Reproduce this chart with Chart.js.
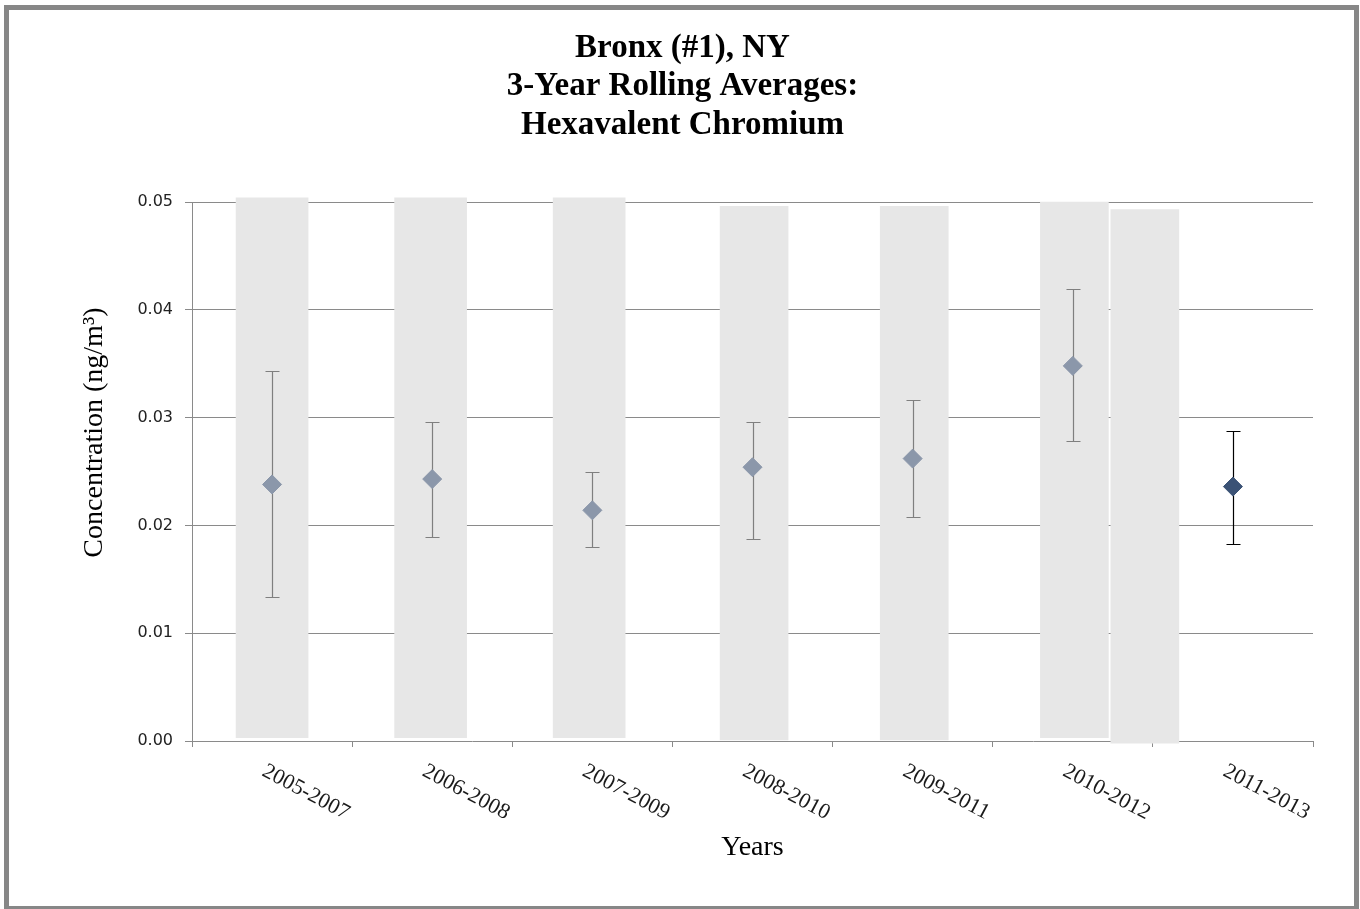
<!DOCTYPE html>
<html>
<head>
<meta charset="utf-8">
<title>Bronx (#1), NY - Hexavalent Chromium</title>
<script src="https://cdn.jsdelivr.net/npm/chart.js@4"></script>
<style>
  html, body { margin: 0; padding: 0; background: #fff; }
  #wrap { position: relative; width: 1360px; height: 909px; overflow: hidden; }
  #frame {
    position: absolute; left: 4px; top: 5px; width: 1355px; height: 906px;
    box-sizing: border-box; border: 5px solid #878787; pointer-events: none;
  }
</style>
</head>
<body>
<div id="wrap">
  <canvas id="chart"></canvas>
  <div id="frame"></div>
</div>
<script>
// 3-year rolling averages with their confidence intervals (ng/m3)
const periods = ['2005-2007', '2006-2008', '2007-2009', '2008-2010', '2009-2011', '2010-2012', '2011-2013'];
const means   = [0.0238, 0.0243, 0.0214, 0.0254, 0.0262, 0.0348, 0.0236];
const errLow  = [0.0134, 0.0189, 0.0180, 0.0187, 0.0208, 0.0278, 0.0183];
const errHigh = [0.0343, 0.0296, 0.0250, 0.0296, 0.0316, 0.0419, 0.0288];
const yTickValues = [0, 0.01, 0.02, 0.03, 0.04, 0.05];

// shaded background bands, x in category units
const bandX    = [0.00, 0.99, 1.98, 3.01, 4.01, 5.01, 5.45];
const bandLow  = [0.0003, 0.0003, 0.0003, 0.0001, 0.0001, 0.0003, -0.0002];
const bandHigh = [0.0504, 0.0504, 0.0504, 0.0496, 0.0496, 0.0500, 0.0493];

const titleLines = ['Bronx (#1), NY', '3-Year Rolling Averages:', 'Hexavalent Chromium'];
const yTitle = 'Concentration (ng/m³)';

const SERIF = "'Liberation Serif', 'Times New Roman', serif";
const GRID = '#8a8a8a';
const last = means.length - 1;

const bands = bandX.map((x, i) => ({ x, y: [bandLow[i], bandHigh[i]] }));

// whiskers go under the diamonds
const errorBars = {
  id: 'errorBars',
  beforeDatasetDraw(chart, args) {
    if (args.index !== 0) return;
    const { ctx, scales: { x, y } } = chart;
    ctx.save();
    ctx.lineWidth = 1.2;
    means.forEach((m, i) => {
      const px = Math.round(x.getPixelForValue(i)) + 0.5;
      const top = Math.round(y.getPixelForValue(errHigh[i])) + 0.5;
      const bot = Math.round(y.getPixelForValue(errLow[i])) + 0.5;
      ctx.strokeStyle = i === last ? '#000' : '#7f7f7f';
      ctx.beginPath();
      ctx.moveTo(px, top); ctx.lineTo(px, bot);
      ctx.moveTo(px - 7, top); ctx.lineTo(px + 7, top);
      ctx.moveTo(px - 7, bot); ctx.lineTo(px + 7, bot);
      ctx.stroke();
    });
    ctx.restore();
  }
};

// slanted period labels and the vertical axis title (sits above centre)
const axisText = {
  id: 'axisText',
  afterDraw(chart) {
    const { ctx, chartArea, scales: { x, y } } = chart;
    ctx.save();
    ctx.fillStyle = '#1a1a1a';
    ctx.font = '22px ' + SERIF;
    ctx.textAlign = 'left';
    ctx.textBaseline = 'alphabetic';
    periods.forEach((p, i) => {
      ctx.save();
      ctx.translate(x.getPixelForValue(i) - 11, x.top + 34);
      ctx.rotate(28 * Math.PI / 180);
      ctx.fillText(p, 0, 0);
      ctx.restore();
    });

    ctx.fillStyle = '#000';
    ctx.font = '28px ' + SERIF;
    ctx.textAlign = 'center';
    ctx.textBaseline = 'middle';
    ctx.translate(y.left + 85, (chartArea.top + chartArea.bottom) / 2 - 39);
    ctx.rotate(-Math.PI / 2);
    ctx.fillText(yTitle, 0, 0);
    ctx.restore();
  }
};

const bandStyle = {
  type: 'bar',
  xAxisID: 'xb',
  yAxisID: 'y',
  backgroundColor: '#e7e7e7',
  grouped: false,
  clip: false
};

new Chart(document.getElementById('chart'), {
  type: 'bar',
  data: {
    labels: periods,
    datasets: [
      {
        type: 'line',
        label: 'Average',
        data: means,
        xAxisID: 'x',
        yAxisID: 'y',
        showLine: false,
        order: 0,
        pointStyle: 'rectRot',
        pointRadius: 9.5,
        pointHoverRadius: 9.5,
        pointBorderWidth: 1,
        pointBackgroundColor: c => c.dataIndex === last ? '#3b5275' : '#8b97aa',
        pointBorderColor: c => c.dataIndex === last ? '#3b5275' : '#8b97aa'
      },
      Object.assign({ label: 'bands', data: bands.slice(0, 3), barThickness: 72, order: 1 }, bandStyle),
      Object.assign({ label: 'bands2', data: bands.slice(3), barThickness: 68, order: 2 }, bandStyle)
    ]
  },
  options: {
    responsive: true,
    maintainAspectRatio: false,
    animation: false,
    layout: { padding: { left: 10, right: 5, top: 10, bottom: 10 } },
    plugins: {
      legend: { display: false },
      tooltip: { enabled: false },
      title: {
        display: true,
        text: titleLines,
        color: '#000',
        font: { family: SERIF, size: 33, weight: 'bold', lineHeight: 1.167 },
        padding: { top: 19, bottom: 57.5 }
      }
    },
    scales: {
      x: {
        type: 'category',
        offset: true,
        grid: { offset: true, drawOnChartArea: false, tickLength: 6, color: GRID },
        border: { color: GRID },
        ticks: { display: false },
        title: {
          display: true,
          text: 'Years',
          color: '#000',
          font: { family: SERIF, size: 28 },
          padding: { top: 0, bottom: 35 }
        },
        afterFit: s => { s.height = 158; }
      },
      xb: { type: 'linear', display: false, offset: false, min: -0.5, max: 6.5 },
      y: {
        min: 0,
        max: 0.05,
        z: 1,
        afterBuildTicks: s => { s.ticks = yTickValues.map(v => ({ value: v })); },
        ticks: {
          callback: v => Number(v).toFixed(2),
          padding: 12,
          color: '#222',
          font: { family: "'DejaVu Sans', Verdana, sans-serif", size: 16 }
        },
        grid: {
          color: c => (c.tick && c.tick.value === 0) ? 'rgba(0,0,0,0)' : GRID,
          tickColor: GRID,
          tickLength: 7
        },
        border: { color: GRID },
        afterFit: s => { s.width = 182; }
      },
      // empty spacer on the right so the title centres on the whole frame
      yr: {
        type: 'linear',
        position: 'right',
        grid: { display: false },
        border: { display: false },
        ticks: { display: false },
        afterFit: s => { s.width = 42; }
      }
    }
  },
  plugins: [errorBars, axisText]
});
</script>
</body>
</html>
